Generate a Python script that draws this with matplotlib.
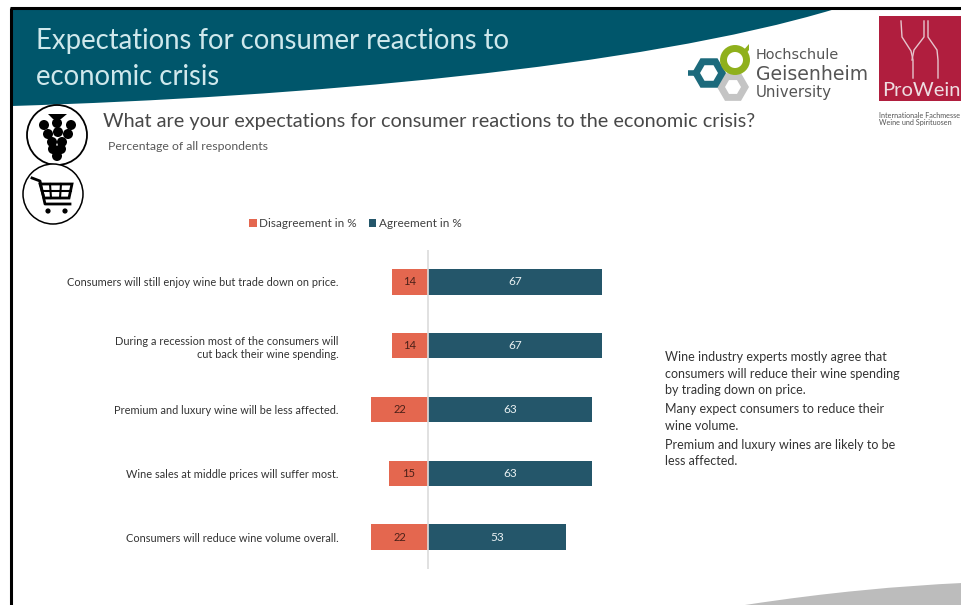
import numpy as np
import matplotlib
matplotlib.use('Agg')
import matplotlib.pyplot as plt
from matplotlib.path import Path
from matplotlib.patches import PathPatch, Circle, Polygon, RegularPolygon, Rectangle

plt.rcParams['font.family'] = ['Lato', 'DejaVu Sans']

statements = [
    'Consumers will still enjoy wine but trade down on price.',
    'During a recession most of the consumers will\ncut back their wine spending.',
    'Premium and luxury wine will be less affected.',
    'Wine sales at middle prices will suffer most.',
    'Consumers will reduce wine volume overall.',
]
disagreement = [14, 14, 22, 15, 22]
agreement = [67, 67, 63, 63, 53]

title_lines = ['Expectations for consumer reactions to', 'economic crisis']
question = 'What are your expectations for consumer reactions to the economic crisis?'
subtitle = 'Percentage of all respondents'
notes = [
    'Wine industry experts mostly agree that\nconsumers will reduce their wine spending\nby trading down on price.',
    'Many expect consumers to reduce their\nwine volume.',
    'Premium and luxury wines are likely to be\nless affected.',
]

TEAL = '#00566b'
BAR_BLUE = '#24566a'
BAR_ORANGE = '#e4674f'
TEXT = '#484848'
W, H = 962, 605
PX_PER_PCT = 2.6
ZERO_X = 428

fig = plt.figure(figsize=(W / 100, H / 100), dpi=100)

# slide background in pixel coordinates
bg = fig.add_axes([0, 0, 1, 1])
bg.set_xlim(0, W)
bg.set_ylim(H, 0)
bg.axis('off')

header = Path([(12, 9), (835, 9), (640, 68), (300, 97), (12, 106), (12, 9)],
              [Path.MOVETO, Path.LINETO, Path.CURVE4, Path.CURVE4, Path.CURVE4, Path.CLOSEPOLY])
bg.add_patch(PathPatch(header, fc=TEAL, ec='none'))
swoosh = Path([(962, 605), (745, 605), (830, 592), (900, 586), (962, 583), (962, 605)],
              [Path.MOVETO, Path.LINETO, Path.CURVE4, Path.CURVE4, Path.CURVE4, Path.CLOSEPOLY])
bg.add_patch(PathPatch(swoosh, fc='#bcbcbc', ec='none'))
bg.plot([11, 11], [8, H], color='black', lw=2.2, solid_capstyle='butt')
bg.plot([10, W], [8, 8], color='black', lw=2.2, solid_capstyle='butt')

for y, line in zip([41, 77], title_lines):
    bg.text(36, y, line, color='#cfe8ec', fontsize=19.8, va='center', ha='left')
bg.text(103, 122, question, color=TEXT, fontsize=14.3, va='center')
bg.text(108, 146, subtitle, color='#595959', fontsize=8.85, va='center')

# grape icon
bg.add_patch(Circle((57, 135), 30, fc='white', ec='black', lw=1.3))
for gx, gy in [(44, 125), (57, 123), (71, 125), (48, 134), (58, 132), (68, 134),
               (52, 142), (62, 142), (53, 149), (61, 149), (57, 156)]:
    bg.add_patch(Circle((gx, gy), 5, fc='black', ec='none'))
bg.add_patch(Polygon([(48, 114), (67, 114), (61, 119), (53, 119)], fc='black', ec='none'))

# shopping cart icon
bg.add_patch(Circle((53, 194), 30, fc='white', ec='black', lw=1.1))
bg.plot([32, 40, 45, 70], [178, 181, 204, 204], color='black', lw=2)
bg.add_patch(Polygon([(40, 184), (72, 184), (69, 198), (44, 198)], fc='white', ec='black', lw=2))
bg.plot([50, 51], [184, 198], color='black', lw=1.5)
bg.plot([61, 60], [184, 198], color='black', lw=1.5)
bg.plot([42, 71], [191, 191], color='black', lw=1.5)
bg.add_patch(Circle((48, 211), 2.6, fc='black', ec='none'))
bg.add_patch(Circle((65, 211), 2.6, fc='black', ec='none'))

# university logo
bg.add_patch(RegularPolygon((733, 87), 6, radius=12, orientation=np.pi / 6, fc='white', ec='#c4c4c4', lw=5))
bg.plot([688, 696], [73, 73], color='#1c6a7c', lw=4, solid_capstyle='butt')
bg.add_patch(RegularPolygon((709, 73), 6, radius=13, orientation=np.pi / 6, fc='white', ec='#1c6a7c', lw=5))
bg.add_patch(Circle((735, 60), 11.5, fc='white', ec='#8fb01c', lw=5))
bg.add_patch(Polygon([(742, 52), (749, 44), (749, 50), (745, 55)], fc='#8fb01c', ec='none'))
bg.text(756, 55, 'Hochschule', color='#555555', fontsize=10.4, va='center', family='DejaVu Sans')
bg.text(756, 74, 'Geisenheim', color='#555555', fontsize=13.6, va='center', family='DejaVu Sans')
bg.text(756, 92, 'University', color='#555555', fontsize=10.8, va='center', family='DejaVu Sans')

# trade fair logo
bg.add_patch(Rectangle((879, 16), 83, 85, fc='#b01e3e', ec='none'))
bg.plot([901, 902, 911, 913, 913], [21, 37, 51, 60, 78], color='#e6c5cd', lw=1)
bg.plot([924, 924, 914, 912], [21, 37, 50, 60], color='#e6c5cd', lw=1)
bg.plot([928, 928, 937, 938, 938], [21, 37, 50, 60, 78], color='#e6c5cd', lw=1)
bg.text(882, 91, 'ProWein', color='#eedde1', fontsize=14.5, va='center')
bg.text(879, 115, 'Internationale Fachmesse', color='#555555', fontsize=5.2, va='center', clip_on=True)
bg.text(879, 122, 'Weine und Spirituosen', color='#555555', fontsize=5.2, va='center')

for y, note in zip([373.5, 417.5, 453], notes):
    bg.text(665, y, note, color='#333333', fontsize=9.0, va='center', ha='left', linespacing=1.42)

# diverging bars on their own axes
left, right, top, bottom = 344, 620, 250, 569
ax = fig.add_axes([left / W, 1 - bottom / H, (right - left) / W, (bottom - top) / H])
ax.patch.set_alpha(0)
ypos = np.arange(len(statements))
bars_d = ax.barh(ypos, -np.array(disagreement), height=0.4, color=BAR_ORANGE, label='Disagreement in %')
bars_a = ax.barh(ypos, agreement, height=0.4, color=BAR_BLUE, label='Agreement in %')
ax.axvline(0, color='#dcdcdc', lw=1.2, zorder=3)
ax.set_xlim((left - ZERO_X) / PX_PER_PCT, (right - ZERO_X) / PX_PER_PCT)
ax.set_ylim(len(statements) - 0.5, -0.5)
ax.set_xticks([])
ax.set_yticks(ypos)
ax.set_yticklabels(statements, fontsize=7.95, color='#333333', linespacing=1.3)
ax.tick_params(axis='y', length=0, pad=4)
for s in ax.spines.values():
    s.set_visible(False)

for bar, v in zip(bars_d, disagreement):
    ax.text(-v / 2, bar.get_y() + bar.get_height() / 2, str(v), color='#4a2018',
            fontsize=8, ha='center', va='center', zorder=4)
for bar, v in zip(bars_a, agreement):
    ax.text(v / 2, bar.get_y() + bar.get_height() / 2, str(v), color='#e8f0f2',
            fontsize=8.5, ha='center', va='center', zorder=4)

fig.legend(handles=[bars_d, bars_a], loc='center', bbox_to_anchor=(355.5 / W, 1 - 224 / H), ncol=2,
           frameon=False, fontsize=8.45, handlelength=0.65, handleheight=0.65, handletextpad=0.2,
           columnspacing=1.0, labelcolor='#404040')

fig.savefig('out.png', dpi=100)
